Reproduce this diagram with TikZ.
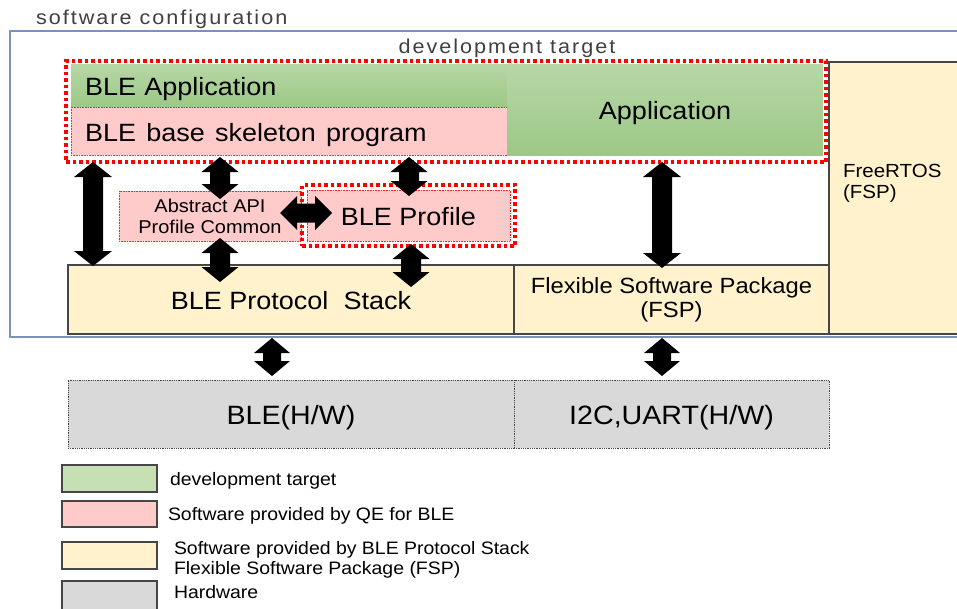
\documentclass[tikz,border=0pt]{standalone}
\usepackage{fontspec}
\setmainfont{Liberation Sans}[FakeStretch=1.08]
\newfontfamily\spacedfont{Liberation Sans}[LetterSpace=10,FakeStretch=1.08]
\usetikzlibrary{calc,fit,shadings}
\definecolor{appgreenT}{RGB}{183,215,166}
\definecolor{appgreenB}{RGB}{156,200,135}
\definecolor{leggreen}{RGB}{198,224,180}
\definecolor{qepink}{RGB}{255,202,202}
\definecolor{stackyellow}{RGB}{255,242,204}
\definecolor{hwgrey}{RGB}{217,217,217}
\definecolor{frameblue}{RGB}{125,145,190}
\definecolor{txtgrey}{RGB}{64,64,64}
\definecolor{boxline}{RGB}{70,70,70}
\newcommand\dblarrow[5]{%
  \fill[black] (#1) -- ($(#1)!#3!(#2)!#4!90:(#2)$) -- ($(#1)!#3!(#2)!#5!90:(#2)$)
    -- ($(#2)!#3!(#1)!#5!-90:(#1)$) -- ($(#2)!#3!(#1)!#4!-90:(#1)$) -- (#2)
    -- ($(#2)!#3!(#1)!#4!90:(#1)$) -- ($(#2)!#3!(#1)!#5!90:(#1)$)
    -- ($(#1)!#3!(#2)!#5!-90:(#2)$) -- ($(#1)!#3!(#2)!#4!-90:(#2)$) -- cycle;}
\begin{document}
\begin{tikzpicture}[x=1pt,y=-1pt,
  every node/.style={inner sep=0pt, outer sep=0pt},
  area/.style={anchor=north west},
  greenbox/.style={area, top color=appgreenT, bottom color=appgreenB, draw=none},
  pinkbox/.style={area, fill=qepink, draw=red!85, densely dotted, line width=0.6pt},
  yellowbox/.style={area, fill=stackyellow, draw=boxline, line width=1.2pt},
  hwbox/.style={area, fill=hwgrey, draw=gray!55!black, densely dotted, line width=0.8pt},
  qedots/.style={draw=red, line width=3.5pt, dash pattern=on 3.5pt off 3pt, fill=none},
  swatch/.style={area, draw=boxline, line width=1.4pt, minimum width=95pt},
  bigtxt/.style={font=\fontsize{25}{29}\selectfont, text height=20pt, text depth=0pt},
  midtxt/.style={font=\fontsize{22}{24}\selectfont},
  smalltxt/.style={font=\fontsize{18.5}{21}\selectfont},
  rtostxt/.style={font=\fontsize{19}{21}\selectfont},
  legtxt/.style={font=\fontsize{18}{20}\selectfont, anchor=west},
  hwtxt/.style={font=\fontsize{26.5}{30}\selectfont, text height=20pt, text depth=0pt},
  graytxt/.style={font=\fontsize{20}{24}\spacedfont, text=txtgrey},
]
\clip (0,0) rectangle (957,608);
\fill[white] (0,0) rectangle (957,608);

% title
\node[graytxt, anchor=base west] (title) at (36,24) {software configuration};

% outer frame
\node[area, draw=frameblue, line width=1.6pt, minimum width=990pt, minimum height=306pt] (frame) at (10,31) {};
\node[graytxt, anchor=base] (devtitle) at (507,53) {development target};

% top boxes
\node[greenbox, minimum width=436pt, minimum height=43pt, text width=408pt, align=left, bigtxt] (bleapp) at (71,64) {BLE Application};
\node[pinkbox, minimum width=436pt, minimum height=48pt, text width=408pt, align=left, bigtxt] (skel) at (71,107) {BLE\hspace{2pt} base\hspace{2pt} skeleton\hspace{2pt} program};
\node[greenbox, minimum width=316pt, minimum height=91pt, bigtxt] (app) at (507,64) {Application};
\node[qedots, area, minimum width=760pt, minimum height=101pt] (qebox) at (66,61) {};

% FreeRTOS
\node[yellowbox, minimum width=160pt, minimum height=272pt] (rtos) at (829,62) {};
\node[rtostxt, anchor=base west] (rtos1) at (843,177) {FreeRTOS};
\node[rtostxt, anchor=base west] (rtos2) at (843,198) {(FSP)};

% middle boxes
\node[pinkbox, minimum width=182pt, minimum height=50pt, smalltxt, align=center] (abs) at (119,191) {Abstract API\\Profile Common};
\node[pinkbox, minimum width=203pt, minimum height=51pt, bigtxt] (profile) at (307,190) {BLE Profile};
\node[qedots, fit=(profile), inner sep=5pt] (profdots) {};

% stack boxes
\node[yellowbox, minimum width=446pt, minimum height=69pt, bigtxt] (stack) at (68,265) {BLE Protocol\ \ Stack};
\node[yellowbox, minimum width=315pt, minimum height=69pt, midtxt, align=center] (fsp) at (514,265) {Flexible Software Package\\(FSP)};

% hardware
\node[hwbox, minimum width=446pt, minimum height=68pt, hwtxt] (blehw) at (68,380) {BLE(H/W)};
\node[hwbox, minimum width=315pt, minimum height=68pt, hwtxt] (i2chw) at (514,380) {I2C,UART(H/W)};

% legend
\node[swatch, fill=leggreen, minimum height=27pt] (lg1) at (62,465) {};
\node[swatch, fill=qepink, minimum height=26pt] (lg2) at (62,501) {};
\node[swatch, fill=stackyellow, minimum height=27pt] (lg3) at (62,542) {};
\node[swatch, fill=hwgrey, minimum height=30pt] (lg4) at (62,581) {};
\node[legtxt] (lt1) at (170,481) {development target};
\node[legtxt] (lt2) at (168,516) {Software provided by QE for BLE};
\node[legtxt] (lt3a) at (174,550) {Software provided by BLE Protocol Stack};
\node[legtxt] (lt3b) at (174,570) {Flexible Software Package (FSP)};
\node[legtxt] (lt4) at (174,592) {Hardware};

% connector end points
\coordinate (a1t) at (93,0 |- qebox.south);
\coordinate (a1b) at ($(93,0 |- stack.north)+(0,1)$);
\coordinate (a2t) at ($(220,0 |- skel.south)+(0,2)$);
\coordinate (a2b) at ($(220,0 |- abs.north)+(0,8)$);
\coordinate (a3t) at ($(409,0 |- skel.south)+(0,2)$);
\coordinate (a3b) at ($(409,0 |- profdots.north)+(0,11)$);
\coordinate (a4t) at ($(220,0 |- abs.south)+(0,-3)$);
\coordinate (a4b) at ($(220,0 |- stack.north)+(0,17)$);
\coordinate (a5t) at ($(411,0 |- profdots.south)+(0,-2)$);
\coordinate (a5b) at ($(411,0 |- stack.north)+(0,22)$);
\coordinate (a6l) at ($(abs.east |- 0,213)+(-21,0)$);
\coordinate (a6r) at ($(profdots.west |- 0,213)+(30,0)$);
\coordinate (a7t) at (662,0 |- qebox.south);
\coordinate (a7b) at ($(662,0 |- fsp.north)+(0,3)$);
\coordinate (a8t) at ($(272,0 |- frame.south)+(0,1)$);
\coordinate (a8b) at ($(272,0 |- blehw.north)+(0,-4)$);
\coordinate (a9t) at ($(662,0 |- frame.south)+(0,1)$);
\coordinate (a9b) at ($(662,0 |- i2chw.north)+(0,-4)$);

% block arrows
\dblarrow{a1t}{a1b}{15pt}{19pt}{10pt}
\dblarrow{a2t}{a2b}{15pt}{18.5pt}{10pt}
\dblarrow{a3t}{a3b}{15pt}{18.5pt}{10pt}
\dblarrow{a4t}{a4b}{15pt}{18.5pt}{10pt}
\dblarrow{a5t}{a5b}{15pt}{18.5pt}{10pt}
\dblarrow{a6l}{a6r}{17pt}{17pt}{9.5pt}
\dblarrow{a7t}{a7b}{15pt}{19pt}{10pt}
\dblarrow{a8t}{a8b}{15pt}{18pt}{9pt}
\dblarrow{a9t}{a9b}{15pt}{18pt}{9pt}
\end{tikzpicture}
\end{document}
